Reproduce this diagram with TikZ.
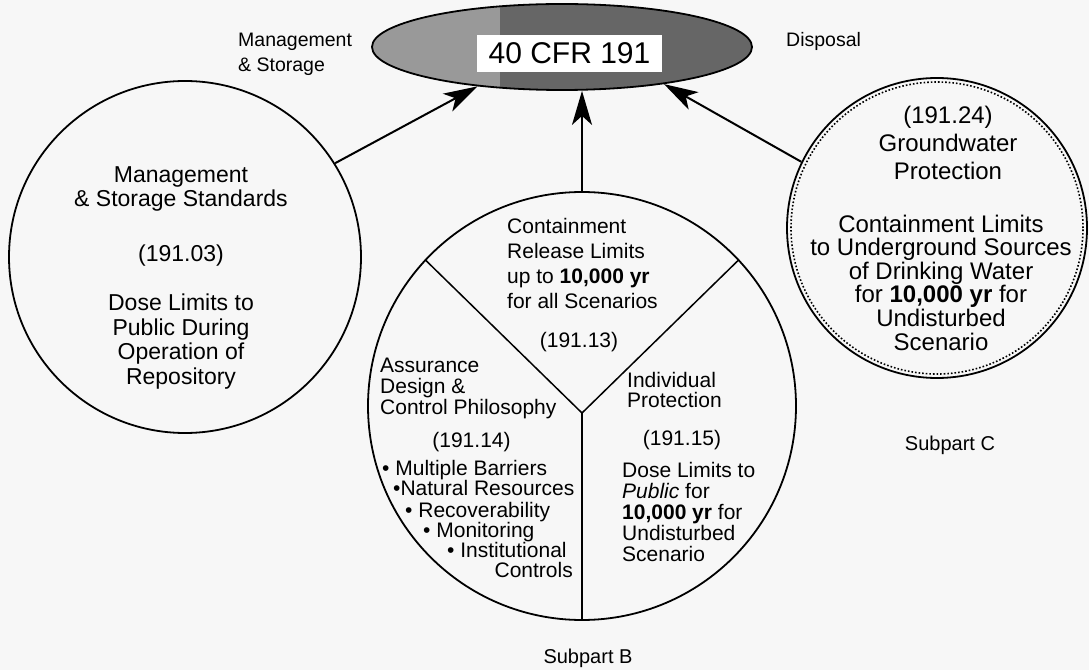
\documentclass[tikz,border=0pt]{standalone}
\usepackage{fontspec}
\setmainfont{Liberation Sans}
\usetikzlibrary{arrows.meta,shapes.geometric}

\begin{document}
\begin{tikzpicture}[x=1pt,y=1pt,
    ring/.style={circle,draw,line width=1.8pt,minimum size=#1,inner sep=0},
    tag/.style={font=\fontsize{19.5}{25}\selectfont,align=left},
    ctxt/.style={align=center,inner sep=0,anchor=north},
    ltxt/.style={align=left,inner sep=0,anchor=north west},
    feed/.style={line width=2pt,-{Stealth[length=34pt,width=20pt,inset=9pt]}}
]
\useasboundingbox[fill=black!3] (0,0) rectangle (1089,670);

% the rule itself
\node[ellipse,draw,line width=1.8pt,minimum width=380,minimum height=86,fill=black!60,
      path picture={\fill[black!40] (path picture bounding box.south west)
                    rectangle ([xshift=128pt]path picture bounding box.north west);}]
      (cfr) at (562,623) {};
\node[fill=white,inner sep=0,minimum width=185,minimum height=37,
      font=\fontsize{30}{30}\selectfont] (title) at (569.5,616.5) {40 CFR 191};

\node[tag,anchor=north west,inner sep=0] (mgmt) at (238,637) {Management\\\& Storage};
\node[tag,anchor=base west,inner sep=0] (disp) at (786,623) {Disposal};

% the three parts
\node[ring=352] (ms) at (185,413) {};
\node[ring=428] (mid) at (582,264) {};
\node[ring=300] (gw) at (937,442) {};
\draw[dotted,line width=1.6pt] (gw.center) circle[radius=146];

% Subpart B split in three
\coordinate (yj) at (582,257);
\draw[line width=1.5pt] (mid.137) -- (yj) -- (mid.43);
\draw[line width=1.5pt] (yj) -- (mid.south);

% links up to the rule
\draw[feed] (ms.32) -- (cfr.205);
\draw[feed] (mid.north) -- (mid.north |- cfr.south);
\draw[feed] (gw.154) -- (cfr.-20);

% Management & Storage Standards
\node[ctxt,font=\fontsize{23}{24.5}\selectfont] (mstxt) at (181,504)
  {Management\\\& Storage Standards\\[30pt](191.03)\\[25pt]Dose Limits to\\Public During\\Operation of\\Repository};

% Subpart B, top sector
\node[ltxt,font=\fontsize{21}{25}\selectfont] (cont) at (507,452)
  {Containment\\Release Limits\\up to \textbf{10,000 yr}\\for all Scenarios};
\node[anchor=base,inner sep=0,font=\fontsize{21}{21}\selectfont] (c13) at (579,322) {(191.13)};

% Subpart B, left sector
\node[ltxt,font=\fontsize{21}{21}\selectfont] (assur) at (380,312)
  {Assurance\\Design \&\\Control Philosophy};
\node[anchor=base,inner sep=0,font=\fontsize{21}{21}\selectfont] (c14) at (471.5,223) {(191.14)};
\foreach \x/\y/\t [count=\i] in {382/195/{\textbullet\ Multiple Barriers},
    393/175/{\textbullet Natural Resources},405/153/{\textbullet\ Recoverability},
    423/133/{\textbullet\ Monitoring},447/113/{\textbullet\ Institutional}}
  \node[anchor=base west,inner sep=0,font=\fontsize{21}{21}\selectfont] (b\i) at (\x,\y) {\t};
\node[anchor=base east,inner sep=0,font=\fontsize{21}{21}\selectfont] (b6) at (573,93) {Controls};

% Subpart B, right sector
\node[ltxt,font=\fontsize{21}{20}\selectfont] (indiv) at (627,298) {Individual\\Protection};
\node[anchor=base,inner sep=0,font=\fontsize{21}{21}\selectfont] (c15) at (682,225) {(191.15)};
\node[ltxt,font=\fontsize{21}{21}\selectfont] (dose) at (622,208)
  {Dose Limits to\\\textit{Public} for\\\textbf{10,000 yr} for\\Undisturbed\\Scenario};

% Groundwater Protection
\node[ctxt,font=\fontsize{24}{28}\selectfont] (gwhead) at (948,564.5)
  {(191.24)\\Groundwater\\Protection};
\node[ctxt,font=\fontsize{24}{23.6}\selectfont] (gwtxt) at (941,455.5)
  {Containment Limits\\to Underground Sources\\of Drinking Water\\for \textbf{10,000 yr} for\\Undisturbed\\Scenario};

\node[anchor=base,inner sep=0,font=\fontsize{20}{20}\selectfont] (subb) at (588,7) {Subpart B};
\node[anchor=base,inner sep=0,font=\fontsize{20}{20}\selectfont] (subc) at (950,220) {Subpart C};
\end{tikzpicture}
\end{document}
